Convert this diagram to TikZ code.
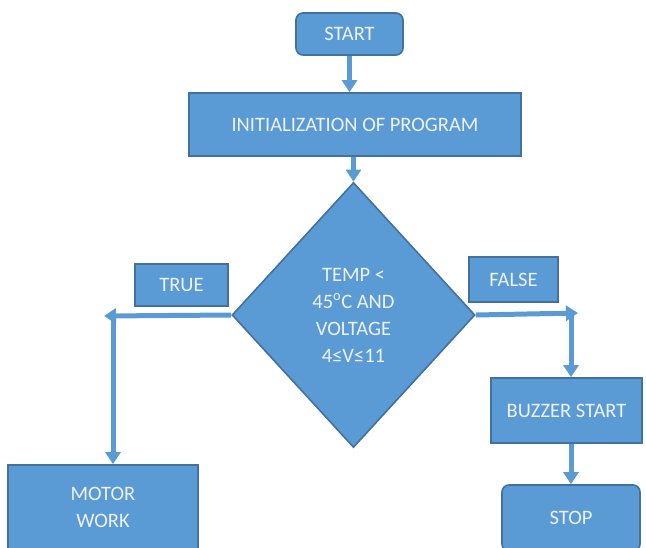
\documentclass[tikz,border=0pt]{standalone}
\usepackage{fontspec}
\setmainfont{Carlito}
\usetikzlibrary{shapes.geometric,arrows.meta}
\definecolor{boxblue}{HTML}{5B9BD5}
\definecolor{edgeblue}{HTML}{41719C}
\definecolor{textgrey}{HTML}{EEF1F5}

\begin{document}
\begin{tikzpicture}[x=1pt,y=-1pt,
    block/.style={draw=edgeblue, line width=1.6pt, fill=boxblue, text=textgrey,
        font=\fontsize{20.5}{27}\selectfont, align=center, inner sep=0pt},
    rblock/.style={block, rounded corners=7pt},
    decision/.style={block, diamond, minimum width=243pt, minimum height=265pt, aspect=0.92},
    flow/.style={draw=boxblue, line width=5pt, -{Triangle[width=15pt,length=12pt]}}]
    \clip (0,0) rectangle (646,547);
    \fill[white] (0,0) rectangle (646,547);
    \node[rblock, minimum width=107pt, minimum height=42pt] (start) at (349.5,34) {START};
    \node[block, minimum width=332pt, minimum height=63pt] (init) at (355,124.5) {INITIALIZATION OF PROGRAM};
    \node[decision] (cond) at (353.5,315) {TEMP <\\45\textsuperscript{o}C AND\\VOLTAGE\\4≤V≤11};
    \node[block, minimum width=93pt, minimum height=42pt] (truelbl) at (181.5,285) {TRUE};
    \node[block, minimum width=89pt, minimum height=45pt] (falselbl) at (513.5,279.5) {FALSE};
    \node[block, minimum width=190pt, minimum height=85pt] (motor) at (103,507.5) {MOTOR\\WORK};
    \node[block, minimum width=151pt, minimum height=65pt] (buzzer) at (566.5,410.5) {BUZZER START};
    \node[rblock, minimum width=138pt, minimum height=66pt] (stop) at (571,518) {STOP};
    \coordinate (lefttip) at (104,316);
    \coordinate (leftturn) at (113,316);
    \coordinate (righttip) at (578,313);
    \coordinate (rightturn) at (571,313);
    \draw[flow] (start.south) -- (start.south |- init.north);
    \draw[flow] (init.south -| cond.north) -- (cond.north);
    \draw[flow] (cond.west) -- (lefttip);
    \draw[flow] (leftturn) -- (leftturn |- motor.north);
    \draw[flow] (cond.east) -- (righttip);
    \draw[flow] (rightturn) -- (rightturn |- buzzer.north);
    \draw[flow] (buzzer.south -| stop) -- (stop);
\end{tikzpicture}
\end{document}
